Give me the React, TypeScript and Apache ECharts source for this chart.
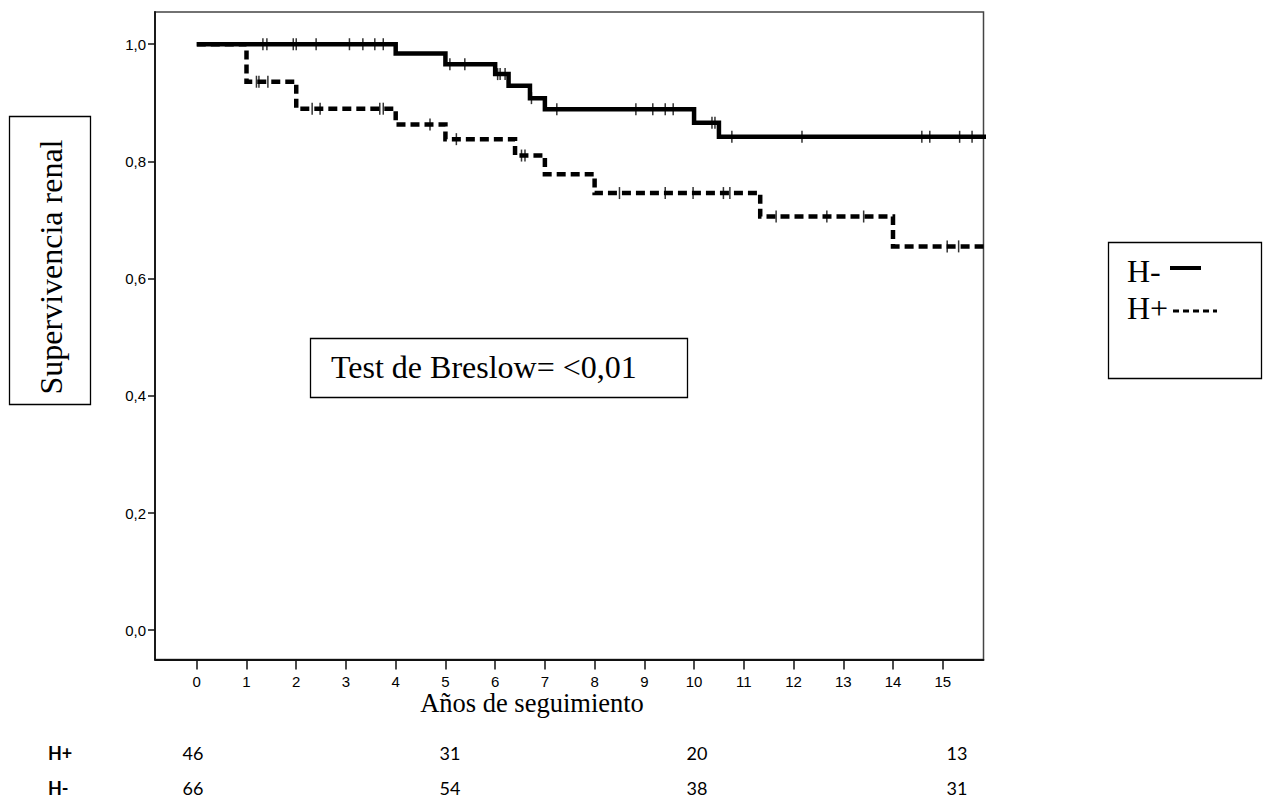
import React, { useEffect, useRef } from "react";
import * as echarts from "echarts";

// Kaplan-Meier steps: event times (years) and survival after each event
const timesHneg = [0, 4, 5, 6, 6.27, 6.7, 7, 10, 10.5];
const survHneg = [1, 0.984, 0.966, 0.949, 0.929, 0.908, 0.889, 0.866, 0.842];
const timesHpos = [0, 1, 2, 4, 5, 6.4, 7, 8, 11.33, 14];
const survHpos = [1, 0.936, 0.89, 0.863, 0.838, 0.81, 0.778, 0.746, 0.706, 0.655];
const followUpEnd = 16;

// censored observations (years)
const censHneg = [1.33, 1.41, 1.94, 2.0, 2.4, 3.07, 3.34, 3.58, 3.75, 5.09, 5.39, 6.05, 6.1, 6.2, 6.73, 7.24, 8.83, 9.17, 9.42, 9.58, 10.36, 10.42, 10.76, 12.17, 14.58, 14.74, 15.34, 15.59];
const censHpos = [1.2, 1.25, 1.43, 2.32, 2.48, 3.68, 3.75, 4.69, 5.22, 6.53, 6.6, 8.5, 9.42, 9.98, 10.59, 10.72, 11.65, 12.67, 13.41, 15.09, 15.32];

const xTicks = [0, 1, 2, 3, 4, 5, 6, 7, 8, 9, 10, 11, 12, 13, 14, 15];
const yTicks = [0, 0.2, 0.4, 0.6, 0.8, 1.0];

// numbers at risk table
const riskGroups = ["H+", "H-"];
const riskHpos = [46, 31, 20, 13];
const riskHneg = [66, 54, 38, 31];

const survivalAt = (times: number[], surv: number[], t: number) => {
  let v = surv[0];
  for (let i = 0; i < times.length; i++) if (times[i] <= t) v = surv[i];
  return v;
};

const stepData = (times: number[], surv: number[]) => {
  const d = times.map((t, i) => [t, surv[i]]);
  d.push([followUpEnd, surv[surv.length - 1]]);
  return d;
};

const serif = "'Liberation Serif', 'Times New Roman', serif";
const sans = "'Liberation Sans', Arial, sans-serif";
const tableFont = "Lato, 'Open Sans', sans-serif";

export default function App() {
  const ref = useRef<HTMLDivElement>(null);
  useEffect(() => {
    if (!ref.current) return;
    const chart = echarts.init(ref.current, null, { renderer: "svg" });
    const riskCols = [193, 450, 697, 957];
    const rowY = [753, 788];
    const graphic: any[] = [
      // y axis title box
      { type: "rect", shape: { x: 9.5, y: 116.5, width: 81, height: 288 }, style: { fill: "none", stroke: "#000", lineWidth: 1.3 } },
      { type: "text", x: 51, y: 267, rotation: Math.PI / 2, style: { text: "Supervivencia renal", font: `32px ${serif}`, fill: "#000", align: "center", verticalAlign: "middle" } },
      // x axis title
      { type: "text", x: 532, y: 703, style: { text: "Años de seguimiento", font: `26.5px ${serif}`, fill: "#000", align: "center", verticalAlign: "middle" } },
      // Breslow box
      { type: "rect", shape: { x: 310.5, y: 338.5, width: 377, height: 59 }, style: { fill: "#fff", stroke: "#000", lineWidth: 1.3 }, z: 10 },
      { type: "text", x: 331, y: 367, z: 11, style: { text: "Test de Breslow= <0,01", font: `32px ${serif}`, fill: "#000", align: "left", verticalAlign: "middle" } },
      // legend box
      { type: "rect", shape: { x: 1108.5, y: 242.5, width: 153, height: 136 }, style: { fill: "none", stroke: "#000", lineWidth: 1.3 } },
      { type: "text", x: 1127, y: 271, style: { text: "H-", font: `32px ${serif}`, fill: "#000", align: "left", verticalAlign: "middle" } },
      { type: "line", shape: { x1: 1170, y1: 268, x2: 1201, y2: 268 }, style: { stroke: "#000", lineWidth: 4 } },
      { type: "text", x: 1127, y: 308, style: { text: "H+", font: `32px ${serif}`, fill: "#000", align: "left", verticalAlign: "middle" } },
      { type: "line", shape: { x1: 1173, y1: 311, x2: 1217, y2: 311 }, style: { stroke: "#000", lineWidth: 3, lineDash: [6, 4] } },
    ];
    riskGroups.forEach((g, r) => {
      graphic.push({ type: "text", x: 48, y: rowY[r], style: { text: g, font: `bold 18px ${tableFont}`, fill: "#000", align: "left", verticalAlign: "middle" } });
      const vals = r === 0 ? riskHpos : riskHneg;
      vals.forEach((v, c) => {
        graphic.push({ type: "text", x: riskCols[c], y: rowY[r], style: { text: String(v), font: `18px ${tableFont}`, fill: "#000", align: "center", verticalAlign: "middle" } });
      });
    });

    chart.setOption({
      animation: false,
      backgroundColor: "#fff",
      grid: {
        left: 155,
        right: 283.5,
        top: 12,
        bottom: 138.5,
        containLabel: false,
        outerBoundsMode: "none",
        show: true,
        borderColor: "#444",
        borderWidth: 1.5,
        backgroundColor: "transparent",
      },
      xAxis: {
        type: "value",
        min: -0.84,
        max: 15.82,
        axisLine: { show: true, onZero: false, lineStyle: { color: "#111", width: 1.8 } },
        axisTick: { show: true, length: 10, customValues: xTicks, lineStyle: { color: "#111", width: 1.5 } },
        axisLabel: { customValues: xTicks, margin: 14, color: "#000", fontSize: 15, fontFamily: sans },
        splitLine: { show: false },
      },
      yAxis: {
        type: "value",
        min: -0.05,
        max: 1.055,
        axisLine: { show: true, onZero: false, lineStyle: { color: "#111", width: 1.8 } },
        axisTick: { show: true, length: 7, customValues: yTicks, lineStyle: { color: "#111", width: 1.5 } },
        axisLabel: {
          customValues: yTicks,
          margin: 9,
          color: "#000",
          fontSize: 15,
          fontFamily: sans,
          formatter: (v: number) => v.toFixed(1).replace(".", ","),
        },
        splitLine: { show: false },
      },
      graphic,
      series: [
        {
          name: "H-",
          type: "line",
          step: "end",
          symbol: "none",
          data: stepData(timesHneg, survHneg),
          lineStyle: { color: "#000", width: 4.5, cap: "butt", join: "miter" },
          z: 3,
        },
        {
          name: "H+",
          type: "line",
          step: "end",
          symbol: "none",
          data: stepData(timesHpos, survHpos),
          lineStyle: { color: "#000", width: 4.5, type: [9, 5], cap: "butt", join: "miter" },
          z: 3,
        },
        {
          name: "H- censored",
          type: "scatter",
          symbol: "rect",
          symbolSize: [1.5, 12],
          itemStyle: { color: "#000" },
          data: censHneg.map((t) => [t, survivalAt(timesHneg, survHneg, t)]),
          z: 4,
        },
        {
          name: "H+ censored",
          type: "scatter",
          symbol: "rect",
          symbolSize: [1.5, 12],
          itemStyle: { color: "#000" },
          data: censHpos.map((t) => [t, survivalAt(timesHpos, survHpos, t)]),
          z: 4,
        },
      ],
    });
    return () => chart.dispose();
  }, []);
  return <div ref={ref} style={{ position: "fixed", left: 0, top: 0, width: 1267, height: 798 }} />;
}
